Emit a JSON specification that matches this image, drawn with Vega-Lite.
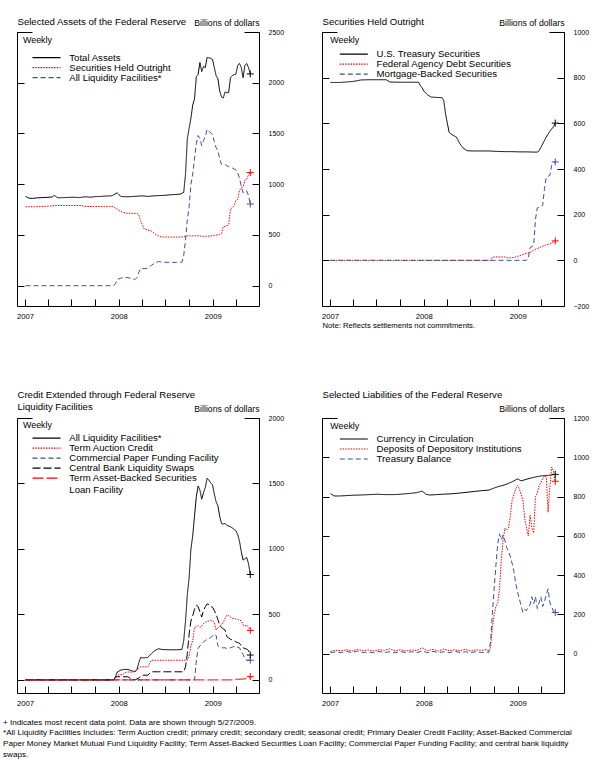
{
"$schema": "https://vega.github.io/schema/vega-lite/v6.json",
"background": "white",
"padding": {"left": 3, "top": 16, "right": 5, "bottom": 3},
"autosize": {"type": "pad"},
"config": {
  "font": "Liberation Sans",
  "view": {"stroke": null},
  "axis": {"labelFont": "Liberation Sans", "titleFont": "Liberation Sans", "domainColor": "#000000", "tickColor": "#000000", "labelColor": "#000000", "titleColor": "#000000", "titleFontWeight": "normal", "grid": false, "domainWidth": 1, "tickWidth": 1, "titlePadding": 0},
  "legend": {"labelFont": "Liberation Sans", "titleFont": "Liberation Sans", "labelFontSize": 9.6, "titleFontSize": 8.9, "titleFontWeight": "normal", "labelColor": "#000000", "titleColor": "#000000", "labelLimit": 400}
},
"datasets": {"fed": [
{"s":"Total Assets","d":"2007-01-03","v":880},{"s":"Total Assets","d":"2007-01-17","v":862},{"s":"Total Assets","d":"2007-01-31","v":860},{"s":"Total Assets","d":"2007-02-14","v":865},{"s":"Total Assets","d":"2007-03-07","v":868},{"s":"Total Assets","d":"2007-03-28","v":870},{"s":"Total Assets","d":"2007-04-18","v":875},{"s":"Total Assets","d":"2007-04-25","v":890},{"s":"Total Assets","d":"2007-05-09","v":866},{"s":"Total Assets","d":"2007-05-30","v":868},{"s":"Total Assets","d":"2007-06-20","v":870},{"s":"Total Assets","d":"2007-07-11","v":872},{"s":"Total Assets","d":"2007-08-01","v":868},{"s":"Total Assets","d":"2007-08-22","v":876},{"s":"Total Assets","d":"2007-09-12","v":872},{"s":"Total Assets","d":"2007-10-03","v":878},{"s":"Total Assets","d":"2007-10-24","v":880},{"s":"Total Assets","d":"2007-11-14","v":884},{"s":"Total Assets","d":"2007-12-05","v":886},{"s":"Total Assets","d":"2007-12-26","v":915},{"s":"Total Assets","d":"2008-01-09","v":880},{"s":"Total Assets","d":"2008-01-30","v":876},{"s":"Total Assets","d":"2008-02-20","v":878},{"s":"Total Assets","d":"2008-03-12","v":882},{"s":"Total Assets","d":"2008-04-02","v":885},{"s":"Total Assets","d":"2008-04-23","v":880},{"s":"Total Assets","d":"2008-05-14","v":885},{"s":"Total Assets","d":"2008-06-04","v":888},{"s":"Total Assets","d":"2008-06-25","v":890},{"s":"Total Assets","d":"2008-07-16","v":895},{"s":"Total Assets","d":"2008-08-06","v":898},{"s":"Total Assets","d":"2008-08-27","v":902},{"s":"Total Assets","d":"2008-09-10","v":920},{"s":"Total Assets","d":"2008-09-17","v":1100},{"s":"Total Assets","d":"2008-09-24","v":1450},{"s":"Total Assets","d":"2008-10-01","v":1550},{"s":"Total Assets","d":"2008-10-08","v":1650},{"s":"Total Assets","d":"2008-10-15","v":1780},{"s":"Total Assets","d":"2008-10-22","v":1840},{"s":"Total Assets","d":"2008-10-29","v":2060},{"s":"Total Assets","d":"2008-11-05","v":2080},{"s":"Total Assets","d":"2008-11-12","v":2200},{"s":"Total Assets","d":"2008-11-19","v":2110},{"s":"Total Assets","d":"2008-11-26","v":2160},{"s":"Total Assets","d":"2008-12-03","v":2150},{"s":"Total Assets","d":"2008-12-10","v":2250},{"s":"Total Assets","d":"2008-12-17","v":2245},{"s":"Total Assets","d":"2008-12-24","v":2240},{"s":"Total Assets","d":"2008-12-31","v":2230},{"s":"Total Assets","d":"2009-01-07","v":2150},{"s":"Total Assets","d":"2009-01-14","v":2070},{"s":"Total Assets","d":"2009-01-21","v":2040},{"s":"Total Assets","d":"2009-01-28","v":1920},{"s":"Total Assets","d":"2009-02-04","v":1860},{"s":"Total Assets","d":"2009-02-11","v":1850},{"s":"Total Assets","d":"2009-02-18","v":1910},{"s":"Total Assets","d":"2009-02-25","v":1900},{"s":"Total Assets","d":"2009-03-04","v":1905},{"s":"Total Assets","d":"2009-03-11","v":2050},{"s":"Total Assets","d":"2009-03-18","v":2070},{"s":"Total Assets","d":"2009-03-25","v":2080},{"s":"Total Assets","d":"2009-04-01","v":2085},{"s":"Total Assets","d":"2009-04-08","v":2170},{"s":"Total Assets","d":"2009-04-15","v":2190},{"s":"Total Assets","d":"2009-04-22","v":2150},{"s":"Total Assets","d":"2009-04-29","v":2050},{"s":"Total Assets","d":"2009-05-06","v":2170},{"s":"Total Assets","d":"2009-05-13","v":2190},{"s":"Total Assets","d":"2009-05-20","v":2150},{"s":"Total Assets","d":"2009-05-27","v":2087},
{"s":"Securities Held Outright","d":"2007-01-03","v":778},{"s":"Securities Held Outright","d":"2007-02-07","v":778},{"s":"Securities Held Outright","d":"2007-03-07","v":780},{"s":"Securities Held Outright","d":"2007-04-04","v":784},{"s":"Securities Held Outright","d":"2007-05-02","v":790},{"s":"Securities Held Outright","d":"2007-06-06","v":791},{"s":"Securities Held Outright","d":"2007-07-04","v":791},{"s":"Securities Held Outright","d":"2007-08-08","v":791},{"s":"Securities Held Outright","d":"2007-08-22","v":781},{"s":"Securities Held Outright","d":"2007-10-03","v":780},{"s":"Securities Held Outright","d":"2007-11-07","v":780},{"s":"Securities Held Outright","d":"2007-12-12","v":779},{"s":"Securities Held Outright","d":"2007-12-19","v":765},{"s":"Securities Held Outright","d":"2007-12-26","v":755},{"s":"Securities Held Outright","d":"2008-01-02","v":740},{"s":"Securities Held Outright","d":"2008-01-16","v":725},{"s":"Securities Held Outright","d":"2008-01-30","v":715},{"s":"Securities Held Outright","d":"2008-02-27","v":713},{"s":"Securities Held Outright","d":"2008-03-12","v":713},{"s":"Securities Held Outright","d":"2008-03-19","v":700},{"s":"Securities Held Outright","d":"2008-03-26","v":640},{"s":"Securities Held Outright","d":"2008-04-02","v":600},{"s":"Securities Held Outright","d":"2008-04-09","v":560},{"s":"Securities Held Outright","d":"2008-04-23","v":548},{"s":"Securities Held Outright","d":"2008-05-07","v":540},{"s":"Securities Held Outright","d":"2008-05-21","v":510},{"s":"Securities Held Outright","d":"2008-06-04","v":490},{"s":"Securities Held Outright","d":"2008-06-18","v":480},{"s":"Securities Held Outright","d":"2008-07-16","v":479},{"s":"Securities Held Outright","d":"2008-08-13","v":479},{"s":"Securities Held Outright","d":"2008-09-10","v":480},{"s":"Securities Held Outright","d":"2008-09-24","v":492},{"s":"Securities Held Outright","d":"2008-10-15","v":492},{"s":"Securities Held Outright","d":"2008-11-12","v":491},{"s":"Securities Held Outright","d":"2008-11-26","v":486},{"s":"Securities Held Outright","d":"2008-12-10","v":488},{"s":"Securities Held Outright","d":"2008-12-24","v":490},{"s":"Securities Held Outright","d":"2009-01-07","v":495},{"s":"Securities Held Outright","d":"2009-01-28","v":505},{"s":"Securities Held Outright","d":"2009-02-04","v":515},{"s":"Securities Held Outright","d":"2009-02-11","v":580},{"s":"Securities Held Outright","d":"2009-02-18","v":585},{"s":"Securities Held Outright","d":"2009-02-25","v":590},{"s":"Securities Held Outright","d":"2009-03-04","v":600},{"s":"Securities Held Outright","d":"2009-03-11","v":755},{"s":"Securities Held Outright","d":"2009-03-18","v":770},{"s":"Securities Held Outright","d":"2009-03-25","v":785},{"s":"Securities Held Outright","d":"2009-04-01","v":840},{"s":"Securities Held Outright","d":"2009-04-08","v":850},{"s":"Securities Held Outright","d":"2009-04-15","v":940},{"s":"Securities Held Outright","d":"2009-04-22","v":965},{"s":"Securities Held Outright","d":"2009-04-29","v":975},{"s":"Securities Held Outright","d":"2009-05-06","v":1040},{"s":"Securities Held Outright","d":"2009-05-13","v":1050},{"s":"Securities Held Outright","d":"2009-05-20","v":1090},{"s":"Securities Held Outright","d":"2009-05-27","v":1115},
{"s":"All Liquidity Facilities*","d":"2007-01-03","v":0},{"s":"All Liquidity Facilities*","d":"2007-07-04","v":0},{"s":"All Liquidity Facilities*","d":"2007-12-12","v":0},{"s":"All Liquidity Facilities*","d":"2007-12-19","v":20},{"s":"All Liquidity Facilities*","d":"2007-12-26","v":60},{"s":"All Liquidity Facilities*","d":"2008-01-09","v":75},{"s":"All Liquidity Facilities*","d":"2008-01-23","v":80},{"s":"All Liquidity Facilities*","d":"2008-02-06","v":80},{"s":"All Liquidity Facilities*","d":"2008-02-20","v":70},{"s":"All Liquidity Facilities*","d":"2008-03-05","v":62},{"s":"All Liquidity Facilities*","d":"2008-03-12","v":80},{"s":"All Liquidity Facilities*","d":"2008-03-19","v":130},{"s":"All Liquidity Facilities*","d":"2008-03-26","v":170},{"s":"All Liquidity Facilities*","d":"2008-04-09","v":168},{"s":"All Liquidity Facilities*","d":"2008-04-23","v":172},{"s":"All Liquidity Facilities*","d":"2008-05-07","v":200},{"s":"All Liquidity Facilities*","d":"2008-05-21","v":225},{"s":"All Liquidity Facilities*","d":"2008-06-04","v":238},{"s":"All Liquidity Facilities*","d":"2008-06-18","v":232},{"s":"All Liquidity Facilities*","d":"2008-07-16","v":230},{"s":"All Liquidity Facilities*","d":"2008-08-13","v":230},{"s":"All Liquidity Facilities*","d":"2008-09-03","v":232},{"s":"All Liquidity Facilities*","d":"2008-09-10","v":300},{"s":"All Liquidity Facilities*","d":"2008-09-17","v":450},{"s":"All Liquidity Facilities*","d":"2008-09-24","v":650},{"s":"All Liquidity Facilities*","d":"2008-10-01","v":780},{"s":"All Liquidity Facilities*","d":"2008-10-08","v":1000},{"s":"All Liquidity Facilities*","d":"2008-10-15","v":1100},{"s":"All Liquidity Facilities*","d":"2008-10-22","v":1250},{"s":"All Liquidity Facilities*","d":"2008-10-29","v":1400},{"s":"All Liquidity Facilities*","d":"2008-11-05","v":1480},{"s":"All Liquidity Facilities*","d":"2008-11-12","v":1450},{"s":"All Liquidity Facilities*","d":"2008-11-19","v":1380},{"s":"All Liquidity Facilities*","d":"2008-11-26","v":1430},{"s":"All Liquidity Facilities*","d":"2008-12-03","v":1470},{"s":"All Liquidity Facilities*","d":"2008-12-10","v":1540},{"s":"All Liquidity Facilities*","d":"2008-12-17","v":1525},{"s":"All Liquidity Facilities*","d":"2008-12-24","v":1505},{"s":"All Liquidity Facilities*","d":"2008-12-31","v":1490},{"s":"All Liquidity Facilities*","d":"2009-01-07","v":1420},{"s":"All Liquidity Facilities*","d":"2009-01-14","v":1360},{"s":"All Liquidity Facilities*","d":"2009-01-21","v":1330},{"s":"All Liquidity Facilities*","d":"2009-01-28","v":1250},{"s":"All Liquidity Facilities*","d":"2009-02-04","v":1195},{"s":"All Liquidity Facilities*","d":"2009-02-11","v":1190},{"s":"All Liquidity Facilities*","d":"2009-02-18","v":1195},{"s":"All Liquidity Facilities*","d":"2009-02-25","v":1180},{"s":"All Liquidity Facilities*","d":"2009-03-04","v":1175},{"s":"All Liquidity Facilities*","d":"2009-03-11","v":1170},{"s":"All Liquidity Facilities*","d":"2009-03-18","v":1160},{"s":"All Liquidity Facilities*","d":"2009-03-25","v":1150},{"s":"All Liquidity Facilities*","d":"2009-04-01","v":1140},{"s":"All Liquidity Facilities*","d":"2009-04-08","v":1110},{"s":"All Liquidity Facilities*","d":"2009-04-15","v":1060},{"s":"All Liquidity Facilities*","d":"2009-04-22","v":980},{"s":"All Liquidity Facilities*","d":"2009-04-29","v":915},{"s":"All Liquidity Facilities*","d":"2009-05-06","v":925},{"s":"All Liquidity Facilities*","d":"2009-05-13","v":935},{"s":"All Liquidity Facilities*","d":"2009-05-20","v":890},{"s":"All Liquidity Facilities*","d":"2009-05-27","v":805},
{"s":"U.S. Treasury Securities","d":"2007-01-03","v":779},{"s":"U.S. Treasury Securities","d":"2007-02-07","v":779},{"s":"U.S. Treasury Securities","d":"2007-03-07","v":781},{"s":"U.S. Treasury Securities","d":"2007-04-04","v":784},{"s":"U.S. Treasury Securities","d":"2007-05-02","v":790},{"s":"U.S. Treasury Securities","d":"2007-06-06","v":791},{"s":"U.S. Treasury Securities","d":"2007-07-04","v":791},{"s":"U.S. Treasury Securities","d":"2007-08-08","v":791},{"s":"U.S. Treasury Securities","d":"2007-08-22","v":781},{"s":"U.S. Treasury Securities","d":"2007-10-03","v":780},{"s":"U.S. Treasury Securities","d":"2007-11-07","v":780},{"s":"U.S. Treasury Securities","d":"2007-12-12","v":780},{"s":"U.S. Treasury Securities","d":"2007-12-19","v":765},{"s":"U.S. Treasury Securities","d":"2007-12-26","v":755},{"s":"U.S. Treasury Securities","d":"2008-01-02","v":740},{"s":"U.S. Treasury Securities","d":"2008-01-16","v":725},{"s":"U.S. Treasury Securities","d":"2008-01-30","v":715},{"s":"U.S. Treasury Securities","d":"2008-02-27","v":713},{"s":"U.S. Treasury Securities","d":"2008-03-12","v":713},{"s":"U.S. Treasury Securities","d":"2008-03-19","v":700},{"s":"U.S. Treasury Securities","d":"2008-03-26","v":640},{"s":"U.S. Treasury Securities","d":"2008-04-02","v":600},{"s":"U.S. Treasury Securities","d":"2008-04-09","v":560},{"s":"U.S. Treasury Securities","d":"2008-04-23","v":548},{"s":"U.S. Treasury Securities","d":"2008-05-07","v":540},{"s":"U.S. Treasury Securities","d":"2008-05-21","v":510},{"s":"U.S. Treasury Securities","d":"2008-06-04","v":490},{"s":"U.S. Treasury Securities","d":"2008-06-18","v":480},{"s":"U.S. Treasury Securities","d":"2008-07-16","v":479},{"s":"U.S. Treasury Securities","d":"2008-08-13","v":479},{"s":"U.S. Treasury Securities","d":"2008-09-10","v":479},{"s":"U.S. Treasury Securities","d":"2008-10-15","v":477},{"s":"U.S. Treasury Securities","d":"2008-11-12","v":476},{"s":"U.S. Treasury Securities","d":"2008-12-10","v":476},{"s":"U.S. Treasury Securities","d":"2009-01-07","v":475},{"s":"U.S. Treasury Securities","d":"2009-02-04","v":475},{"s":"U.S. Treasury Securities","d":"2009-03-04","v":474},{"s":"U.S. Treasury Securities","d":"2009-03-18","v":474},{"s":"U.S. Treasury Securities","d":"2009-03-25","v":480},{"s":"U.S. Treasury Securities","d":"2009-04-08","v":510},{"s":"U.S. Treasury Securities","d":"2009-04-22","v":540},{"s":"U.S. Treasury Securities","d":"2009-05-06","v":565},{"s":"U.S. Treasury Securities","d":"2009-05-20","v":585},{"s":"U.S. Treasury Securities","d":"2009-05-27","v":601},
{"s":"Federal Agency Debt Securities","d":"2007-01-03","v":0},{"s":"Federal Agency Debt Securities","d":"2007-07-04","v":0},{"s":"Federal Agency Debt Securities","d":"2008-01-02","v":0},{"s":"Federal Agency Debt Securities","d":"2008-07-02","v":0},{"s":"Federal Agency Debt Securities","d":"2008-09-17","v":0},{"s":"Federal Agency Debt Securities","d":"2008-09-24","v":14},{"s":"Federal Agency Debt Securities","d":"2008-10-15","v":15},{"s":"Federal Agency Debt Securities","d":"2008-11-12","v":15},{"s":"Federal Agency Debt Securities","d":"2008-11-26","v":10},{"s":"Federal Agency Debt Securities","d":"2008-12-10","v":12},{"s":"Federal Agency Debt Securities","d":"2008-12-24","v":15},{"s":"Federal Agency Debt Securities","d":"2009-01-07","v":20},{"s":"Federal Agency Debt Securities","d":"2009-01-28","v":28},{"s":"Federal Agency Debt Securities","d":"2009-02-18","v":35},{"s":"Federal Agency Debt Securities","d":"2009-03-04","v":45},{"s":"Federal Agency Debt Securities","d":"2009-03-25","v":55},{"s":"Federal Agency Debt Securities","d":"2009-04-15","v":65},{"s":"Federal Agency Debt Securities","d":"2009-05-06","v":73},{"s":"Federal Agency Debt Securities","d":"2009-05-27","v":85},
{"s":"Mortgage-Backed Securities","d":"2007-01-03","v":0},{"s":"Mortgage-Backed Securities","d":"2007-07-04","v":0},{"s":"Mortgage-Backed Securities","d":"2008-01-02","v":0},{"s":"Mortgage-Backed Securities","d":"2008-07-02","v":0},{"s":"Mortgage-Backed Securities","d":"2009-01-07","v":0},{"s":"Mortgage-Backed Securities","d":"2009-02-04","v":0},{"s":"Mortgage-Backed Securities","d":"2009-02-11","v":10},{"s":"Mortgage-Backed Securities","d":"2009-02-18","v":55},{"s":"Mortgage-Backed Securities","d":"2009-02-25","v":60},{"s":"Mortgage-Backed Securities","d":"2009-03-04","v":65},{"s":"Mortgage-Backed Securities","d":"2009-03-11","v":180},{"s":"Mortgage-Backed Securities","d":"2009-03-18","v":230},{"s":"Mortgage-Backed Securities","d":"2009-03-25","v":232},{"s":"Mortgage-Backed Securities","d":"2009-04-01","v":234},{"s":"Mortgage-Backed Securities","d":"2009-04-08","v":240},{"s":"Mortgage-Backed Securities","d":"2009-04-15","v":314},{"s":"Mortgage-Backed Securities","d":"2009-04-22","v":365},{"s":"Mortgage-Backed Securities","d":"2009-04-29","v":368},{"s":"Mortgage-Backed Securities","d":"2009-05-06","v":372},{"s":"Mortgage-Backed Securities","d":"2009-05-13","v":416},{"s":"Mortgage-Backed Securities","d":"2009-05-20","v":425},{"s":"Mortgage-Backed Securities","d":"2009-05-27","v":431},
{"s":"Term Auction Credit","d":"2007-01-03","v":0},{"s":"Term Auction Credit","d":"2007-07-04","v":0},{"s":"Term Auction Credit","d":"2007-12-12","v":0},{"s":"Term Auction Credit","d":"2007-12-19","v":20},{"s":"Term Auction Credit","d":"2008-01-02","v":40},{"s":"Term Auction Credit","d":"2008-01-16","v":40},{"s":"Term Auction Credit","d":"2008-01-30","v":60},{"s":"Term Auction Credit","d":"2008-02-27","v":60},{"s":"Term Auction Credit","d":"2008-03-12","v":80},{"s":"Term Auction Credit","d":"2008-03-26","v":100},{"s":"Term Auction Credit","d":"2008-04-23","v":100},{"s":"Term Auction Credit","d":"2008-05-07","v":150},{"s":"Term Auction Credit","d":"2008-06-04","v":150},{"s":"Term Auction Credit","d":"2008-07-02","v":150},{"s":"Term Auction Credit","d":"2008-08-06","v":150},{"s":"Term Auction Credit","d":"2008-09-10","v":150},{"s":"Term Auction Credit","d":"2008-09-24","v":150},{"s":"Term Auction Credit","d":"2008-10-01","v":180},{"s":"Term Auction Credit","d":"2008-10-08","v":260},{"s":"Term Auction Credit","d":"2008-10-15","v":300},{"s":"Term Auction Credit","d":"2008-10-22","v":400},{"s":"Term Auction Credit","d":"2008-10-29","v":410},{"s":"Term Auction Credit","d":"2008-11-05","v":415},{"s":"Term Auction Credit","d":"2008-11-12","v":400},{"s":"Term Auction Credit","d":"2008-11-19","v":410},{"s":"Term Auction Credit","d":"2008-11-26","v":430},{"s":"Term Auction Credit","d":"2008-12-03","v":440},{"s":"Term Auction Credit","d":"2008-12-10","v":450},{"s":"Term Auction Credit","d":"2008-12-17","v":450},{"s":"Term Auction Credit","d":"2008-12-24","v":455},{"s":"Term Auction Credit","d":"2008-12-31","v":450},{"s":"Term Auction Credit","d":"2009-01-07","v":440},{"s":"Term Auction Credit","d":"2009-01-14","v":380},{"s":"Term Auction Credit","d":"2009-01-21","v":400},{"s":"Term Auction Credit","d":"2009-01-28","v":410},{"s":"Term Auction Credit","d":"2009-02-04","v":420},{"s":"Term Auction Credit","d":"2009-02-11","v":440},{"s":"Term Auction Credit","d":"2009-02-18","v":470},{"s":"Term Auction Credit","d":"2009-02-25","v":495},{"s":"Term Auction Credit","d":"2009-03-04","v":490},{"s":"Term Auction Credit","d":"2009-03-11","v":480},{"s":"Term Auction Credit","d":"2009-03-18","v":470},{"s":"Term Auction Credit","d":"2009-03-25","v":470},{"s":"Term Auction Credit","d":"2009-04-01","v":465},{"s":"Term Auction Credit","d":"2009-04-08","v":460},{"s":"Term Auction Credit","d":"2009-04-15","v":458},{"s":"Term Auction Credit","d":"2009-04-22","v":450},{"s":"Term Auction Credit","d":"2009-04-29","v":420},{"s":"Term Auction Credit","d":"2009-05-06","v":410},{"s":"Term Auction Credit","d":"2009-05-13","v":420},{"s":"Term Auction Credit","d":"2009-05-20","v":400},{"s":"Term Auction Credit","d":"2009-05-27","v":378},
{"s":"Commercial Paper Funding Facility","d":"2007-01-03","v":0},{"s":"Commercial Paper Funding Facility","d":"2007-07-04","v":0},{"s":"Commercial Paper Funding Facility","d":"2008-01-02","v":0},{"s":"Commercial Paper Funding Facility","d":"2008-07-02","v":0},{"s":"Commercial Paper Funding Facility","d":"2008-10-22","v":0},{"s":"Commercial Paper Funding Facility","d":"2008-10-29","v":145},{"s":"Commercial Paper Funding Facility","d":"2008-11-05","v":240},{"s":"Commercial Paper Funding Facility","d":"2008-11-12","v":260},{"s":"Commercial Paper Funding Facility","d":"2008-11-19","v":275},{"s":"Commercial Paper Funding Facility","d":"2008-11-26","v":290},{"s":"Commercial Paper Funding Facility","d":"2008-12-03","v":300},{"s":"Commercial Paper Funding Facility","d":"2008-12-10","v":310},{"s":"Commercial Paper Funding Facility","d":"2008-12-17","v":315},{"s":"Commercial Paper Funding Facility","d":"2008-12-24","v":325},{"s":"Commercial Paper Funding Facility","d":"2008-12-31","v":335},{"s":"Commercial Paper Funding Facility","d":"2009-01-07","v":350},{"s":"Commercial Paper Funding Facility","d":"2009-01-14","v":340},{"s":"Commercial Paper Funding Facility","d":"2009-01-21","v":260},{"s":"Commercial Paper Funding Facility","d":"2009-01-28","v":250},{"s":"Commercial Paper Funding Facility","d":"2009-02-04","v":245},{"s":"Commercial Paper Funding Facility","d":"2009-02-11","v":245},{"s":"Commercial Paper Funding Facility","d":"2009-02-18","v":245},{"s":"Commercial Paper Funding Facility","d":"2009-02-25","v":240},{"s":"Commercial Paper Funding Facility","d":"2009-03-04","v":245},{"s":"Commercial Paper Funding Facility","d":"2009-03-11","v":245},{"s":"Commercial Paper Funding Facility","d":"2009-03-18","v":250},{"s":"Commercial Paper Funding Facility","d":"2009-03-25","v":255},{"s":"Commercial Paper Funding Facility","d":"2009-04-01","v":258},{"s":"Commercial Paper Funding Facility","d":"2009-04-08","v":250},{"s":"Commercial Paper Funding Facility","d":"2009-04-15","v":245},{"s":"Commercial Paper Funding Facility","d":"2009-04-22","v":220},{"s":"Commercial Paper Funding Facility","d":"2009-04-29","v":195},{"s":"Commercial Paper Funding Facility","d":"2009-05-06","v":160},{"s":"Commercial Paper Funding Facility","d":"2009-05-13","v":150},{"s":"Commercial Paper Funding Facility","d":"2009-05-20","v":150},{"s":"Commercial Paper Funding Facility","d":"2009-05-27","v":150},
{"s":"Central Bank Liquidity Swaps","d":"2007-01-03","v":0},{"s":"Central Bank Liquidity Swaps","d":"2007-07-04","v":0},{"s":"Central Bank Liquidity Swaps","d":"2007-12-12","v":0},{"s":"Central Bank Liquidity Swaps","d":"2007-12-19","v":20},{"s":"Central Bank Liquidity Swaps","d":"2007-12-26","v":24},{"s":"Central Bank Liquidity Swaps","d":"2008-01-09","v":24},{"s":"Central Bank Liquidity Swaps","d":"2008-02-06","v":24},{"s":"Central Bank Liquidity Swaps","d":"2008-02-20","v":5},{"s":"Central Bank Liquidity Swaps","d":"2008-03-05","v":0},{"s":"Central Bank Liquidity Swaps","d":"2008-03-19","v":15},{"s":"Central Bank Liquidity Swaps","d":"2008-04-02","v":36},{"s":"Central Bank Liquidity Swaps","d":"2008-04-23","v":36},{"s":"Central Bank Liquidity Swaps","d":"2008-05-07","v":62},{"s":"Central Bank Liquidity Swaps","d":"2008-06-04","v":62},{"s":"Central Bank Liquidity Swaps","d":"2008-07-02","v":62},{"s":"Central Bank Liquidity Swaps","d":"2008-08-06","v":62},{"s":"Central Bank Liquidity Swaps","d":"2008-09-10","v":62},{"s":"Central Bank Liquidity Swaps","d":"2008-09-17","v":100},{"s":"Central Bank Liquidity Swaps","d":"2008-09-24","v":200},{"s":"Central Bank Liquidity Swaps","d":"2008-10-01","v":350},{"s":"Central Bank Liquidity Swaps","d":"2008-10-08","v":450},{"s":"Central Bank Liquidity Swaps","d":"2008-10-15","v":490},{"s":"Central Bank Liquidity Swaps","d":"2008-10-22","v":540},{"s":"Central Bank Liquidity Swaps","d":"2008-10-29","v":570},{"s":"Central Bank Liquidity Swaps","d":"2008-11-05","v":560},{"s":"Central Bank Liquidity Swaps","d":"2008-11-12","v":520},{"s":"Central Bank Liquidity Swaps","d":"2008-11-19","v":480},{"s":"Central Bank Liquidity Swaps","d":"2008-11-26","v":530},{"s":"Central Bank Liquidity Swaps","d":"2008-12-03","v":560},{"s":"Central Bank Liquidity Swaps","d":"2008-12-10","v":580},{"s":"Central Bank Liquidity Swaps","d":"2008-12-17","v":575},{"s":"Central Bank Liquidity Swaps","d":"2008-12-24","v":560},{"s":"Central Bank Liquidity Swaps","d":"2008-12-31","v":555},{"s":"Central Bank Liquidity Swaps","d":"2009-01-07","v":530},{"s":"Central Bank Liquidity Swaps","d":"2009-01-14","v":500},{"s":"Central Bank Liquidity Swaps","d":"2009-01-21","v":460},{"s":"Central Bank Liquidity Swaps","d":"2009-01-28","v":420},{"s":"Central Bank Liquidity Swaps","d":"2009-02-04","v":400},{"s":"Central Bank Liquidity Swaps","d":"2009-02-11","v":390},{"s":"Central Bank Liquidity Swaps","d":"2009-02-18","v":380},{"s":"Central Bank Liquidity Swaps","d":"2009-02-25","v":330},{"s":"Central Bank Liquidity Swaps","d":"2009-03-04","v":320},{"s":"Central Bank Liquidity Swaps","d":"2009-03-11","v":310},{"s":"Central Bank Liquidity Swaps","d":"2009-03-18","v":305},{"s":"Central Bank Liquidity Swaps","d":"2009-03-25","v":300},{"s":"Central Bank Liquidity Swaps","d":"2009-04-01","v":290},{"s":"Central Bank Liquidity Swaps","d":"2009-04-08","v":285},{"s":"Central Bank Liquidity Swaps","d":"2009-04-15","v":280},{"s":"Central Bank Liquidity Swaps","d":"2009-04-22","v":260},{"s":"Central Bank Liquidity Swaps","d":"2009-04-29","v":245},{"s":"Central Bank Liquidity Swaps","d":"2009-05-06","v":240},{"s":"Central Bank Liquidity Swaps","d":"2009-05-13","v":235},{"s":"Central Bank Liquidity Swaps","d":"2009-05-20","v":225},{"s":"Central Bank Liquidity Swaps","d":"2009-05-27","v":190},
{"s":"Term Asset-Backed Securities Loan Facility","d":"2007-01-03","v":0},{"s":"Term Asset-Backed Securities Loan Facility","d":"2008-01-02","v":0},{"s":"Term Asset-Backed Securities Loan Facility","d":"2009-01-07","v":0},{"s":"Term Asset-Backed Securities Loan Facility","d":"2009-03-18","v":0},{"s":"Term Asset-Backed Securities Loan Facility","d":"2009-03-25","v":5},{"s":"Term Asset-Backed Securities Loan Facility","d":"2009-04-08","v":5},{"s":"Term Asset-Backed Securities Loan Facility","d":"2009-04-22","v":6},{"s":"Term Asset-Backed Securities Loan Facility","d":"2009-05-06","v":8},{"s":"Term Asset-Backed Securities Loan Facility","d":"2009-05-13","v":10},{"s":"Term Asset-Backed Securities Loan Facility","d":"2009-05-20","v":15},{"s":"Term Asset-Backed Securities Loan Facility","d":"2009-05-27","v":25},
{"s":"Currency in Circulation","d":"2007-01-03","v":815},{"s":"Currency in Circulation","d":"2007-01-17","v":803},{"s":"Currency in Circulation","d":"2007-02-07","v":803},{"s":"Currency in Circulation","d":"2007-03-07","v":805},{"s":"Currency in Circulation","d":"2007-04-04","v":807},{"s":"Currency in Circulation","d":"2007-05-02","v":808},{"s":"Currency in Circulation","d":"2007-06-06","v":810},{"s":"Currency in Circulation","d":"2007-07-04","v":812},{"s":"Currency in Circulation","d":"2007-08-01","v":810},{"s":"Currency in Circulation","d":"2007-09-05","v":810},{"s":"Currency in Circulation","d":"2007-10-03","v":812},{"s":"Currency in Circulation","d":"2007-11-07","v":816},{"s":"Currency in Circulation","d":"2007-12-05","v":820},{"s":"Currency in Circulation","d":"2007-12-26","v":828},{"s":"Currency in Circulation","d":"2008-01-09","v":812},{"s":"Currency in Circulation","d":"2008-01-23","v":808},{"s":"Currency in Circulation","d":"2008-02-20","v":810},{"s":"Currency in Circulation","d":"2008-03-19","v":812},{"s":"Currency in Circulation","d":"2008-04-16","v":814},{"s":"Currency in Circulation","d":"2008-05-14","v":817},{"s":"Currency in Circulation","d":"2008-06-18","v":822},{"s":"Currency in Circulation","d":"2008-07-16","v":826},{"s":"Currency in Circulation","d":"2008-08-13","v":830},{"s":"Currency in Circulation","d":"2008-09-10","v":833},{"s":"Currency in Circulation","d":"2008-09-24","v":840},{"s":"Currency in Circulation","d":"2008-10-15","v":850},{"s":"Currency in Circulation","d":"2008-11-12","v":860},{"s":"Currency in Circulation","d":"2008-12-10","v":875},{"s":"Currency in Circulation","d":"2008-12-31","v":890},{"s":"Currency in Circulation","d":"2009-01-14","v":880},{"s":"Currency in Circulation","d":"2009-02-04","v":888},{"s":"Currency in Circulation","d":"2009-03-04","v":898},{"s":"Currency in Circulation","d":"2009-04-01","v":905},{"s":"Currency in Circulation","d":"2009-04-29","v":908},{"s":"Currency in Circulation","d":"2009-05-27","v":913},
{"s":"Deposits of Depository Institutions","d":"2007-01-03","v":12},{"s":"Deposits of Depository Institutions","d":"2007-01-24","v":18},{"s":"Deposits of Depository Institutions","d":"2007-02-14","v":15},{"s":"Deposits of Depository Institutions","d":"2007-03-07","v":20},{"s":"Deposits of Depository Institutions","d":"2007-03-28","v":14},{"s":"Deposits of Depository Institutions","d":"2007-04-18","v":22},{"s":"Deposits of Depository Institutions","d":"2007-05-09","v":16},{"s":"Deposits of Depository Institutions","d":"2007-05-30","v":19},{"s":"Deposits of Depository Institutions","d":"2007-06-20","v":14},{"s":"Deposits of Depository Institutions","d":"2007-07-11","v":21},{"s":"Deposits of Depository Institutions","d":"2007-08-01","v":17},{"s":"Deposits of Depository Institutions","d":"2007-08-22","v":25},{"s":"Deposits of Depository Institutions","d":"2007-09-12","v":15},{"s":"Deposits of Depository Institutions","d":"2007-10-03","v":20},{"s":"Deposits of Depository Institutions","d":"2007-10-24","v":14},{"s":"Deposits of Depository Institutions","d":"2007-11-14","v":19},{"s":"Deposits of Depository Institutions","d":"2007-12-05","v":16},{"s":"Deposits of Depository Institutions","d":"2007-12-26","v":30},{"s":"Deposits of Depository Institutions","d":"2008-01-16","v":15},{"s":"Deposits of Depository Institutions","d":"2008-02-06","v":22},{"s":"Deposits of Depository Institutions","d":"2008-02-27","v":14},{"s":"Deposits of Depository Institutions","d":"2008-03-19","v":24},{"s":"Deposits of Depository Institutions","d":"2008-04-09","v":16},{"s":"Deposits of Depository Institutions","d":"2008-04-30","v":20},{"s":"Deposits of Depository Institutions","d":"2008-05-21","v":15},{"s":"Deposits of Depository Institutions","d":"2008-06-11","v":22},{"s":"Deposits of Depository Institutions","d":"2008-07-02","v":14},{"s":"Deposits of Depository Institutions","d":"2008-07-23","v":20},{"s":"Deposits of Depository Institutions","d":"2008-08-13","v":17},{"s":"Deposits of Depository Institutions","d":"2008-09-03","v":22},{"s":"Deposits of Depository Institutions","d":"2008-09-10","v":12},{"s":"Deposits of Depository Institutions","d":"2008-09-17","v":30},{"s":"Deposits of Depository Institutions","d":"2008-09-24","v":130},{"s":"Deposits of Depository Institutions","d":"2008-10-01","v":200},{"s":"Deposits of Depository Institutions","d":"2008-10-08","v":240},{"s":"Deposits of Depository Institutions","d":"2008-10-15","v":260},{"s":"Deposits of Depository Institutions","d":"2008-10-22","v":330},{"s":"Deposits of Depository Institutions","d":"2008-10-29","v":480},{"s":"Deposits of Depository Institutions","d":"2008-11-05","v":580},{"s":"Deposits of Depository Institutions","d":"2008-11-12","v":640},{"s":"Deposits of Depository Institutions","d":"2008-11-19","v":630},{"s":"Deposits of Depository Institutions","d":"2008-11-26","v":640},{"s":"Deposits of Depository Institutions","d":"2008-12-03","v":700},{"s":"Deposits of Depository Institutions","d":"2008-12-10","v":780},{"s":"Deposits of Depository Institutions","d":"2008-12-17","v":810},{"s":"Deposits of Depository Institutions","d":"2008-12-24","v":840},{"s":"Deposits of Depository Institutions","d":"2008-12-31","v":856},{"s":"Deposits of Depository Institutions","d":"2009-01-07","v":840},{"s":"Deposits of Depository Institutions","d":"2009-01-14","v":810},{"s":"Deposits of Depository Institutions","d":"2009-01-21","v":780},{"s":"Deposits of Depository Institutions","d":"2009-01-28","v":690},{"s":"Deposits of Depository Institutions","d":"2009-02-04","v":640},{"s":"Deposits of Depository Institutions","d":"2009-02-11","v":600},{"s":"Deposits of Depository Institutions","d":"2009-02-18","v":705},{"s":"Deposits of Depository Institutions","d":"2009-02-25","v":640},{"s":"Deposits of Depository Institutions","d":"2009-03-04","v":615},{"s":"Deposits of Depository Institutions","d":"2009-03-11","v":800},{"s":"Deposits of Depository Institutions","d":"2009-03-18","v":820},{"s":"Deposits of Depository Institutions","d":"2009-03-25","v":855},{"s":"Deposits of Depository Institutions","d":"2009-04-01","v":870},{"s":"Deposits of Depository Institutions","d":"2009-04-08","v":890},{"s":"Deposits of Depository Institutions","d":"2009-04-15","v":905},{"s":"Deposits of Depository Institutions","d":"2009-04-22","v":900},{"s":"Deposits of Depository Institutions","d":"2009-04-29","v":720},{"s":"Deposits of Depository Institutions","d":"2009-05-06","v":850},{"s":"Deposits of Depository Institutions","d":"2009-05-13","v":950},{"s":"Deposits of Depository Institutions","d":"2009-05-20","v":930},{"s":"Deposits of Depository Institutions","d":"2009-05-27","v":878},
{"s":"Treasury Balance","d":"2007-01-03","v":5},{"s":"Treasury Balance","d":"2007-01-24","v":10},{"s":"Treasury Balance","d":"2007-02-14","v":6},{"s":"Treasury Balance","d":"2007-03-07","v":12},{"s":"Treasury Balance","d":"2007-03-28","v":5},{"s":"Treasury Balance","d":"2007-04-18","v":14},{"s":"Treasury Balance","d":"2007-05-09","v":6},{"s":"Treasury Balance","d":"2007-05-30","v":9},{"s":"Treasury Balance","d":"2007-06-20","v":5},{"s":"Treasury Balance","d":"2007-07-11","v":12},{"s":"Treasury Balance","d":"2007-08-01","v":6},{"s":"Treasury Balance","d":"2007-08-22","v":10},{"s":"Treasury Balance","d":"2007-09-12","v":5},{"s":"Treasury Balance","d":"2007-10-03","v":11},{"s":"Treasury Balance","d":"2007-10-24","v":6},{"s":"Treasury Balance","d":"2007-11-14","v":10},{"s":"Treasury Balance","d":"2007-12-05","v":5},{"s":"Treasury Balance","d":"2007-12-26","v":14},{"s":"Treasury Balance","d":"2008-01-16","v":5},{"s":"Treasury Balance","d":"2008-02-06","v":12},{"s":"Treasury Balance","d":"2008-02-27","v":6},{"s":"Treasury Balance","d":"2008-03-19","v":10},{"s":"Treasury Balance","d":"2008-04-09","v":5},{"s":"Treasury Balance","d":"2008-04-30","v":13},{"s":"Treasury Balance","d":"2008-05-21","v":6},{"s":"Treasury Balance","d":"2008-06-11","v":10},{"s":"Treasury Balance","d":"2008-07-02","v":5},{"s":"Treasury Balance","d":"2008-07-23","v":11},{"s":"Treasury Balance","d":"2008-08-13","v":6},{"s":"Treasury Balance","d":"2008-09-03","v":9},{"s":"Treasury Balance","d":"2008-09-10","v":5},{"s":"Treasury Balance","d":"2008-09-17","v":60},{"s":"Treasury Balance","d":"2008-09-24","v":200},{"s":"Treasury Balance","d":"2008-10-01","v":330},{"s":"Treasury Balance","d":"2008-10-08","v":450},{"s":"Treasury Balance","d":"2008-10-15","v":560},{"s":"Treasury Balance","d":"2008-10-22","v":610},{"s":"Treasury Balance","d":"2008-10-29","v":580},{"s":"Treasury Balance","d":"2008-11-05","v":605},{"s":"Treasury Balance","d":"2008-11-12","v":575},{"s":"Treasury Balance","d":"2008-11-19","v":540},{"s":"Treasury Balance","d":"2008-11-26","v":520},{"s":"Treasury Balance","d":"2008-12-03","v":495},{"s":"Treasury Balance","d":"2008-12-10","v":460},{"s":"Treasury Balance","d":"2008-12-17","v":420},{"s":"Treasury Balance","d":"2008-12-24","v":360},{"s":"Treasury Balance","d":"2008-12-31","v":315},{"s":"Treasury Balance","d":"2009-01-07","v":280},{"s":"Treasury Balance","d":"2009-01-14","v":245},{"s":"Treasury Balance","d":"2009-01-21","v":210},{"s":"Treasury Balance","d":"2009-01-28","v":225},{"s":"Treasury Balance","d":"2009-02-04","v":220},{"s":"Treasury Balance","d":"2009-02-11","v":235},{"s":"Treasury Balance","d":"2009-02-18","v":250},{"s":"Treasury Balance","d":"2009-02-25","v":290},{"s":"Treasury Balance","d":"2009-03-04","v":255},{"s":"Treasury Balance","d":"2009-03-11","v":290},{"s":"Treasury Balance","d":"2009-03-18","v":230},{"s":"Treasury Balance","d":"2009-03-25","v":260},{"s":"Treasury Balance","d":"2009-04-01","v":290},{"s":"Treasury Balance","d":"2009-04-08","v":240},{"s":"Treasury Balance","d":"2009-04-15","v":265},{"s":"Treasury Balance","d":"2009-04-22","v":300},{"s":"Treasury Balance","d":"2009-04-29","v":330},{"s":"Treasury Balance","d":"2009-05-06","v":260},{"s":"Treasury Balance","d":"2009-05-13","v":240},{"s":"Treasury Balance","d":"2009-05-20","v":215},{"s":"Treasury Balance","d":"2009-05-27","v":210}
]},
"title": {
  "text": ["+ Indicates most recent data point. Data are shown through 5/27/2009.", "*All Liquidity Facilities Includes: Term Auction credit; primary credit; secondary credit; seasonal credit; Primary Dealer Credit Facility; Asset-Backed Commercial", "Paper Money Market Mutual Fund Liquidity Facility; Term Asset-Backed Securities Loan Facility; Commercial Paper Funding Facility; and central bank liquidity", "swaps."],
  "orient": "bottom", "anchor": "start", "frame": "group", "font": "Liberation Sans", "fontSize": 8.1, "fontWeight": "normal", "color": "#000000", "lineHeight": 10.7, "baseline": "top", "offset": 12, "dx": -14
},
"columns": 2,
"spacing": {"row": 112, "column": 63},
"bounds": "flush",
"resolve": {"scale": {"color": "independent", "strokeDash": "independent", "stroke": "independent"}},
"concat": [
{
 "width": 242, "height": 274,
 "data": {"name": "fed"},
 "transform": [{"filter": {"field": "s", "oneOf": ["Total Assets", "Securities Held Outright", "All Liquidity Facilities*"]}}],
 "layer": [
  {"mark": {"type": "line", "strokeWidth": 1},
   "encoding": {
    "x": {"field": "d", "type": "temporal", "scale": {"domain": [{"year": 2006, "month": 12, "date": 1}, {"year": 2009, "month": 6, "date": 30}]},
          "axis": {"orient": "bottom", "title": null, "tickCount": {"interval": "month", "step": 3}, "labelExpr": "month(datum.value) === 0 ? timeFormat(datum.value, '%Y') : ''", "tickSize": -7, "labelPadding": 13, "labelFontSize": 7.7, "labelFlush": false, "labelOverlap": false}},
    "y": {"field": "v", "type": "quantitative", "scale": {"domain": [-200, 2500], "nice": false, "zero": false},
          "axis": {"orient": "right", "values": [0, 500, 1000, 1500, 2000, 2500], "format": "d", "tickSize": -7, "labelPadding": 16, "labelFontSize": 7, "labelAlign": "left", "labelBaseline": "middle", "labelFlush": false, "labelOverlap": false, "title": "Billions of dollars", "titleAngle": 0, "titleAlign": "right", "titleBaseline": "alphabetic", "titleX": 0, "titleY": -7, "titleFontSize": 8.7}},
    "color": {"field": "s", "type": "nominal", "scale": {"domain": ["Total Assets", "Securities Held Outright", "All Liquidity Facilities*"], "range": ["#000000", "#ff0000", "#3d4ea1"]},
              "legend": {"title": "Weekly", "orient": "none", "legendX": 6, "legendY": 4, "padding": 0, "symbolType": "M-7,0H7", "symbolSize": 16, "symbolStrokeWidth": 1.2, "symbolOffset": 18.7, "labelOffset": 18, "rowPadding": -1.8, "titlePadding": 7.9}},
    "strokeDash": {"field": "s", "type": "nominal", "scale": {"domain": ["Total Assets", "Securities Held Outright", "All Liquidity Facilities*"], "range": [[1, 0], [1.5, 1.2], [5, 3]]},
              "legend": {"title": "Weekly", "orient": "none", "legendX": 6, "legendY": 4, "padding": 0, "symbolType": "M-7,0H7", "symbolSize": 16, "symbolStrokeWidth": 1.2, "symbolOffset": 18.7, "labelOffset": 18, "rowPadding": -1.8, "titlePadding": 7.9}}
   }},
  {"transform": [{"joinaggregate": [{"op": "max", "field": "d", "as": "maxd"}], "groupby": ["s"]}, {"filter": "time(datum.d) === time(datum.maxd)"}],
   "mark": {"type": "point", "shape": "M-1,0H1M0,-1V1", "size": 49, "filled": false, "strokeWidth": 1, "opacity": 1},
   "encoding": {
    "x": {"field": "d", "type": "temporal", "axis": {"orient": "top", "ticks": false, "labels": false, "title": null, "domainDash": [15, 212]}},
    "y": {"field": "v", "type": "quantitative", "axis": {"orient": "left", "values": [0, 500, 1000, 1500, 2000, 2500], "tickSize": -7, "labels": false, "title": "Selected Assets of the Federal Reserve", "titleAngle": 0, "titleAlign": "left", "titleBaseline": "alphabetic", "titleX": 0, "titleY": -8, "titleFontSize": 9.6}},
    "stroke": {"field": "s", "type": "nominal", "scale": {"domain": ["Total Assets", "Securities Held Outright", "All Liquidity Facilities*"], "range": ["#000000", "#ff0000", "#3d4ea1"]}, "legend": null}
   }}
 ],
 "resolve": {"axis": {"x": "independent", "y": "independent"}}
},
{
 "width": 242, "height": 274,
 "data": {"name": "fed"},
 "transform": [{"filter": {"field": "s", "oneOf": ["U.S. Treasury Securities", "Federal Agency Debt Securities", "Mortgage-Backed Securities"]}}],
 "layer": [
  {"mark": {"type": "line", "strokeWidth": 1},
   "encoding": {
    "x": {"field": "d", "type": "temporal", "scale": {"domain": [{"year": 2006, "month": 12, "date": 1}, {"year": 2009, "month": 6, "date": 30}]},
          "axis": {"orient": "bottom", "tickCount": {"interval": "month", "step": 3}, "labelExpr": "month(datum.value) === 0 ? timeFormat(datum.value, '%Y') : ''", "tickSize": -7, "labelPadding": 13, "labelFontSize": 7.7, "labelFlush": false, "labelOverlap": false, "title": "Note: Reflects settlements not commitments.", "titleX": 0, "titleY": 21, "titleAlign": "left", "titleAnchor": "start", "titleBaseline": "alphabetic", "titleFontSize": 7.7, "titleAngle": 0}},
    "y": {"field": "v", "type": "quantitative", "scale": {"domain": [-200, 1000], "nice": false, "zero": false},
          "axis": {"orient": "right", "values": [-200, 0, 200, 400, 600, 800, 1000], "format": "d", "tickSize": -7, "labelPadding": 16, "labelFontSize": 7, "labelAlign": "left", "labelBaseline": "middle", "labelFlush": false, "labelOverlap": false, "title": "Billions of dollars", "titleAngle": 0, "titleAlign": "right", "titleBaseline": "alphabetic", "titleX": 0, "titleY": -7, "titleFontSize": 8.7}},
    "color": {"field": "s", "type": "nominal", "scale": {"domain": ["U.S. Treasury Securities", "Federal Agency Debt Securities", "Mortgage-Backed Securities"], "range": ["#000000", "#ff0000", "#3d4ea1"]},
              "legend": {"title": "Weekly", "orient": "none", "legendX": 8.3, "legendY": 4, "padding": 0, "symbolType": "M-7,0H7", "symbolSize": 16, "symbolStrokeWidth": 1.2, "symbolOffset": 18.7, "labelOffset": 18, "rowPadding": -1.8, "titlePadding": 4.5}},
    "strokeDash": {"field": "s", "type": "nominal", "scale": {"domain": ["U.S. Treasury Securities", "Federal Agency Debt Securities", "Mortgage-Backed Securities"], "range": [[1, 0], [1.5, 1.2], [5, 3]]},
              "legend": {"title": "Weekly", "orient": "none", "legendX": 8.3, "legendY": 4, "padding": 0, "symbolType": "M-7,0H7", "symbolSize": 16, "symbolStrokeWidth": 1.2, "symbolOffset": 18.7, "labelOffset": 18, "rowPadding": -1.8, "titlePadding": 4.5}}
   }},
  {"transform": [{"joinaggregate": [{"op": "max", "field": "d", "as": "maxd"}], "groupby": ["s"]}, {"filter": "time(datum.d) === time(datum.maxd)"}],
   "mark": {"type": "point", "shape": "M-1,0H1M0,-1V1", "size": 49, "filled": false, "strokeWidth": 1, "opacity": 1},
   "encoding": {
    "x": {"field": "d", "type": "temporal", "axis": {"orient": "top", "ticks": false, "labels": false, "title": null, "domainDash": [15, 212]}},
    "y": {"field": "v", "type": "quantitative", "axis": {"orient": "left", "values": [-200, 0, 200, 400, 600, 800, 1000], "tickSize": -7, "labels": false, "title": "Securities Held Outright", "titleAngle": 0, "titleAlign": "left", "titleBaseline": "alphabetic", "titleX": 0, "titleY": -8, "titleFontSize": 9.6}},
    "stroke": {"field": "s", "type": "nominal", "scale": {"domain": ["U.S. Treasury Securities", "Federal Agency Debt Securities", "Mortgage-Backed Securities"], "range": ["#000000", "#ff0000", "#3d4ea1"]}, "legend": null}
   }}
 ],
 "resolve": {"axis": {"x": "independent", "y": "independent"}}
},
{
 "width": 242, "height": 275,
 "data": {"name": "fed"},
 "transform": [{"filter": {"field": "s", "oneOf": ["All Liquidity Facilities*", "Term Auction Credit", "Commercial Paper Funding Facility", "Central Bank Liquidity Swaps", "Term Asset-Backed Securities Loan Facility"]}}],
 "layer": [
  {"mark": {"type": "line", "strokeWidth": 1},
   "encoding": {
    "x": {"field": "d", "type": "temporal", "scale": {"domain": [{"year": 2006, "month": 12, "date": 1}, {"year": 2009, "month": 6, "date": 30}]},
          "axis": {"orient": "bottom", "title": null, "tickCount": {"interval": "month", "step": 3}, "labelExpr": "month(datum.value) === 0 ? timeFormat(datum.value, '%Y') : ''", "tickSize": -7, "labelPadding": 13, "labelFontSize": 7.7, "labelFlush": false, "labelOverlap": false}},
    "y": {"field": "v", "type": "quantitative", "scale": {"domain": [-100, 2000], "nice": false, "zero": false},
          "axis": {"orient": "right", "values": [0, 500, 1000, 1500, 2000], "format": "d", "tickSize": -7, "labelPadding": 16, "labelFontSize": 7, "labelAlign": "left", "labelBaseline": "middle", "labelFlush": false, "labelOverlap": false, "title": "Billions of dollars", "titleAngle": 0, "titleAlign": "right", "titleBaseline": "alphabetic", "titleX": 0, "titleY": -7, "titleFontSize": 8.7}},
    "color": {"field": "s", "type": "nominal", "scale": {"domain": ["All Liquidity Facilities*", "Term Auction Credit", "Commercial Paper Funding Facility", "Central Bank Liquidity Swaps", "Term Asset-Backed Securities Loan Facility"], "range": ["#000000", "#ff0000", "#3d4ea1", "#000000", "#ff0000"]},
              "legend": {"title": "Weekly", "orient": "none", "legendX": 6, "legendY": 3, "padding": 0, "symbolType": "M-7,0H7", "symbolSize": 16, "symbolStrokeWidth": 1.2, "symbolOffset": 18.7, "labelOffset": 18, "rowPadding": -1.8, "titlePadding": 3.5, "labelExpr": "datum.label === 'Term Asset-Backed Securities Loan Facility' ? ['Term Asset-Backed Securities', 'Loan Facility'] : datum.label"}},
    "strokeDash": {"field": "s", "type": "nominal", "scale": {"domain": ["All Liquidity Facilities*", "Term Auction Credit", "Commercial Paper Funding Facility", "Central Bank Liquidity Swaps", "Term Asset-Backed Securities Loan Facility"], "range": [[1, 0], [1.5, 1.2], [5, 3], [8, 3], [11, 3]]},
              "legend": {"title": "Weekly", "orient": "none", "legendX": 6, "legendY": 3, "padding": 0, "symbolType": "M-7,0H7", "symbolSize": 16, "symbolStrokeWidth": 1.2, "symbolOffset": 18.7, "labelOffset": 18, "rowPadding": -1.8, "titlePadding": 3.5, "labelExpr": "datum.label === 'Term Asset-Backed Securities Loan Facility' ? ['Term Asset-Backed Securities', 'Loan Facility'] : datum.label"}}
   }},
  {"transform": [{"joinaggregate": [{"op": "max", "field": "d", "as": "maxd"}], "groupby": ["s"]}, {"filter": "time(datum.d) === time(datum.maxd)"}],
   "mark": {"type": "point", "shape": "M-1,0H1M0,-1V1", "size": 49, "filled": false, "strokeWidth": 1, "opacity": 1},
   "encoding": {
    "x": {"field": "d", "type": "temporal", "axis": {"orient": "top", "ticks": false, "labels": false, "title": null, "domainDash": [15, 212]}},
    "y": {"field": "v", "type": "quantitative", "axis": {"orient": "left", "values": [0, 500, 1000, 1500, 2000], "tickSize": -7, "labels": false, "title": ["Credit Extended through Federal Reserve", "Liquidity Facilities"], "titleAngle": 0, "titleAlign": "left", "titleBaseline": "alphabetic", "titleX": 0, "titleY": -20.5, "titleFontSize": 9.6, "titleLineHeight": 12}},
    "stroke": {"field": "s", "type": "nominal", "scale": {"domain": ["All Liquidity Facilities*", "Term Auction Credit", "Commercial Paper Funding Facility", "Central Bank Liquidity Swaps", "Term Asset-Backed Securities Loan Facility"], "range": ["#000000", "#ff0000", "#3d4ea1", "#000000", "#ff0000"]}, "legend": null}
   }}
 ],
 "resolve": {"axis": {"x": "independent", "y": "independent"}}
},
{
 "width": 242, "height": 275,
 "data": {"name": "fed"},
 "transform": [{"filter": {"field": "s", "oneOf": ["Currency in Circulation", "Deposits of Depository Institutions", "Treasury Balance"]}}],
 "layer": [
  {"mark": {"type": "line", "strokeWidth": 1},
   "encoding": {
    "x": {"field": "d", "type": "temporal", "scale": {"domain": [{"year": 2006, "month": 12, "date": 1}, {"year": 2009, "month": 6, "date": 30}]},
          "axis": {"orient": "bottom", "title": null, "tickCount": {"interval": "month", "step": 3}, "labelExpr": "month(datum.value) === 0 ? timeFormat(datum.value, '%Y') : ''", "tickSize": -7, "labelPadding": 13, "labelFontSize": 7.7, "labelFlush": false, "labelOverlap": false}},
    "y": {"field": "v", "type": "quantitative", "scale": {"domain": [-200, 1200], "nice": false, "zero": false},
          "axis": {"orient": "right", "values": [0, 200, 400, 600, 800, 1000, 1200], "format": "d", "tickSize": -7, "labelPadding": 16, "labelFontSize": 7, "labelAlign": "left", "labelBaseline": "middle", "labelFlush": false, "labelOverlap": false, "title": "Billions of dollars", "titleAngle": 0, "titleAlign": "right", "titleBaseline": "alphabetic", "titleX": 0, "titleY": -7, "titleFontSize": 8.7}},
    "color": {"field": "s", "type": "nominal", "scale": {"domain": ["Currency in Circulation", "Deposits of Depository Institutions", "Treasury Balance"], "range": ["#000000", "#ff0000", "#3d4ea1"]},
              "legend": {"title": "Weekly", "orient": "none", "legendX": 8.3, "legendY": 3.8, "padding": 0, "symbolType": "M-7,0H7", "symbolSize": 16, "symbolStrokeWidth": 1.2, "symbolOffset": 18.7, "labelOffset": 18, "rowPadding": -1.8, "titlePadding": 3.5}},
    "strokeDash": {"field": "s", "type": "nominal", "scale": {"domain": ["Currency in Circulation", "Deposits of Depository Institutions", "Treasury Balance"], "range": [[1, 0], [1.5, 1.2], [5, 3]]},
              "legend": {"title": "Weekly", "orient": "none", "legendX": 8.3, "legendY": 3.8, "padding": 0, "symbolType": "M-7,0H7", "symbolSize": 16, "symbolStrokeWidth": 1.2, "symbolOffset": 18.7, "labelOffset": 18, "rowPadding": -1.8, "titlePadding": 3.5}}
   }},
  {"transform": [{"joinaggregate": [{"op": "max", "field": "d", "as": "maxd"}], "groupby": ["s"]}, {"filter": "time(datum.d) === time(datum.maxd)"}],
   "mark": {"type": "point", "shape": "M-1,0H1M0,-1V1", "size": 49, "filled": false, "strokeWidth": 1, "opacity": 1},
   "encoding": {
    "x": {"field": "d", "type": "temporal", "axis": {"orient": "top", "ticks": false, "labels": false, "title": null, "domainDash": [15, 212]}},
    "y": {"field": "v", "type": "quantitative", "axis": {"orient": "left", "values": [0, 200, 400, 600, 800, 1000, 1200], "tickSize": -7, "labels": false, "title": "Selected Liabilities of the Federal Reserve", "titleAngle": 0, "titleAlign": "left", "titleBaseline": "alphabetic", "titleX": 0, "titleY": -20.7, "titleFontSize": 9.6}},
    "stroke": {"field": "s", "type": "nominal", "scale": {"domain": ["Currency in Circulation", "Deposits of Depository Institutions", "Treasury Balance"], "range": ["#000000", "#ff0000", "#3d4ea1"]}, "legend": null}
   }}
 ],
 "resolve": {"axis": {"x": "independent", "y": "independent"}}
}
]
}
